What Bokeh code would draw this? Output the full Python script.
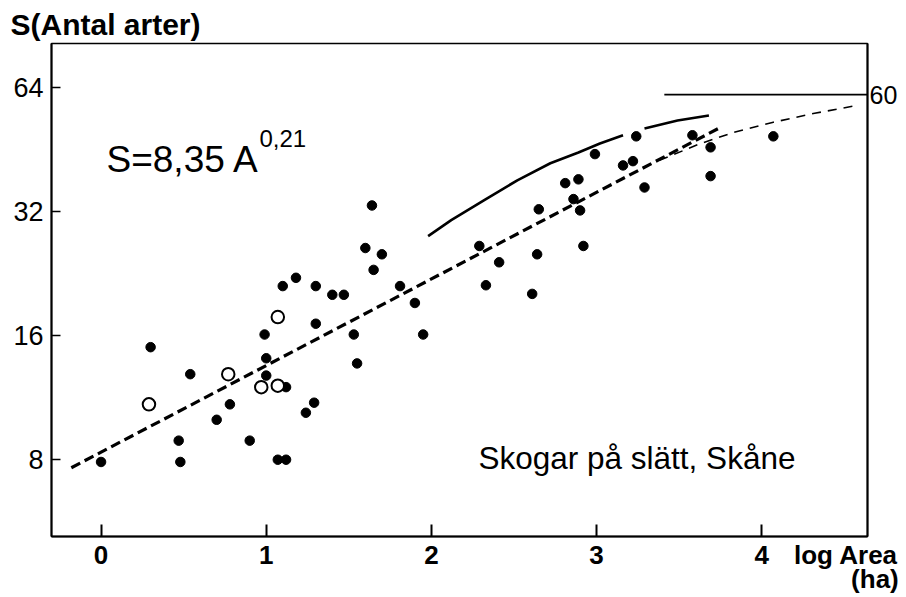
from bokeh.plotting import figure
from bokeh.models import (Range1d, FixedTicker, LogAxis, Label, Title, NumeralTickFormatter)
from bokeh.embed import file_html
from bokeh.resources import INLINE

# ---------------- data ----------------
filled_logA = [0.00, 0.30, 0.54, 0.47, 0.48, 0.70, 0.78, 0.90, 0.99, 1.00, 1.00, 1.12,
               1.07, 1.12, 1.10, 1.18, 1.30, 1.30, 1.24, 1.29, 1.40, 1.47, 1.53, 1.55,
               1.60, 1.64, 1.70, 1.65, 1.81, 1.90, 1.95, 2.29, 2.41, 2.33, 2.61, 2.64,
               2.65, 2.81, 2.89, 2.86, 2.90, 2.92, 2.99, 3.16, 3.22, 3.24, 3.29, 3.58,
               3.69, 3.69, 4.07]
filled_S = [7.9, 15.0, 12.9, 8.9, 7.9, 10.0, 10.9, 8.9, 16.1, 14.1, 12.8, 12.0,
            8.0, 8.0, 21.1, 22.1, 21.1, 17.1, 10.4, 11.0, 20.1, 20.1, 16.1, 13.7,
            26.1, 33.1, 25.2, 23.1, 21.1, 19.2, 16.1, 26.4, 24.1, 21.2, 20.2, 25.2,
            32.4, 37.5, 38.3, 34.3, 32.2, 26.4, 44.1, 41.4, 42.4, 48.7, 36.6, 49.0,
            45.8, 39.0, 48.7]

open_logA = [0.29, 0.77, 0.97, 1.07, 1.07]
open_S = [10.9, 12.9, 12.0, 12.1, 17.75]

# fitted line S = 8,35 A^0,21 (end points)
fit_logA = [-0.18, 3.75]
fit_S = [7.65, 51.2]

# upper solid curve (two pieces, interrupted near a point)
upper1_logA = [1.98, 2.12, 2.32, 2.52, 2.72, 2.89, 3.02, 3.16]
upper1_S = [27.9, 30.5, 34.1, 38.1, 41.9, 44.5, 46.8, 49.0]
upper2_logA = [3.29, 3.49, 3.68]
upper2_S = [50.9, 53.2, 54.7]

# lower thin dashed curve approaching the asymptote
lower_logA = [3.38, 3.63, 3.83, 4.07, 4.32, 4.58]
lower_S = [42.6, 46.8, 49.8, 52.7, 55.4, 57.9]

# asymptote
asym_logA = [3.41, 4.64]
asym_S = 61.5
asym_label = "60"

x_ticks = [0, 1, 2, 3, 4]
y_ticks = [8, 16, 32, 64]
x_title_pos = 4.51
x_title = "log Area\n" + "\u00a0" * 8 + "(ha)"

FONT = "Liberation Sans"

p = figure(width=902, height=597,
           x_range=Range1d(-0.30, 4.64), y_range=Range1d(5.21, 81.8),
           y_axis_type="log", output_backend="svg", toolbar_location=None,
           min_border_left=51, min_border_right=35, min_border_top=43, min_border_bottom=60)
p.grid.visible = False
p.outline_line_color = "black"
p.outline_line_width = 1.5
p.background_fill_color = "white"
p.border_fill_color = "white"

# title at top-left
p.title = Title(text="S(Antal arter)", align="left", offset=-41, standoff=6,
                text_font=FONT, text_font_style="bold", text_font_size="30px",
                text_color="black")

# x axis: inward tick marks drawn as minor ticks, labels (incl. axis title) as major labels
xa = p.xaxis[0]
xa.ticker = FixedTicker(ticks=x_ticks + [x_title_pos], minor_ticks=x_ticks)
xa.major_label_overrides = {x_title_pos: x_title}
xa.major_tick_line_color = None
xa.major_tick_in = 0
xa.major_tick_out = 0
xa.minor_tick_line_color = "black"
xa.minor_tick_in = 12
xa.minor_tick_out = 0
xa.minor_tick_line_width = 2
xa.axis_line_width = 2
xa.major_label_standoff = 3
xa.major_label_text_font = FONT
xa.major_label_text_font_style = "bold"
xa.major_label_text_font_size = "26px"
xa.major_label_text_line_height = 0.83
xa.major_label_text_color = "black"

# y axis
ya = p.yaxis[0]
ya.ticker = FixedTicker(ticks=y_ticks)
ya.formatter = NumeralTickFormatter(format="0")
ya.major_tick_in = 9
ya.major_tick_out = 0
ya.major_tick_line_width = 1.5
ya.minor_tick_line_color = None
ya.axis_line_width = 2
ya.major_label_standoff = 8
ya.major_label_text_font = FONT
ya.major_label_text_font_size = "27px"
ya.major_label_text_color = "black"

# right axis carrying the asymptote label
ra = LogAxis(ticker=FixedTicker(ticks=[asym_S]),
             major_label_overrides={asym_S: asym_label})
ra.major_tick_line_color = None
ra.minor_tick_line_color = None
ra.major_tick_in = 0
ra.major_tick_out = 0
ra.axis_line_width = 2
ra.major_label_standoff = 2
ra.major_label_text_font = FONT
ra.major_label_text_font_size = "25px"
ra.major_label_text_color = "black"
p.add_layout(ra, "right")

# lines
p.line(fit_logA, fit_S, line_width=3.2, line_dash="10 5", line_color="black")
p.multi_line([upper1_logA, upper2_logA], [upper1_S, upper2_S], line_width=2.6, line_color="black")
p.line(lower_logA, lower_S, line_width=1.6, line_dash="9 7", line_color="black")
p.line(asym_logA, [asym_S, asym_S], line_width=1.8, line_color="black")

# points
p.scatter(filled_logA, filled_S, size=9.5, fill_color="black", line_color="black")
p.scatter(open_logA, open_S, size=12.5, fill_color="white", line_color="black", line_width=2)

# texts inside the frame (screen units from the frame's bottom-left)
p.add_layout(Label(x=55, y=377, x_units="screen", y_units="screen", text="S=8,35 A",
                   text_font=FONT, text_font_size="37px",
                   text_baseline="alphabetic", text_color="black"))
p.add_layout(Label(x=208, y=398, x_units="screen", y_units="screen", text="0,21",
                   text_font=FONT, text_font_size="24px",
                   text_baseline="alphabetic", text_color="black"))
p.add_layout(Label(x=427, y=79, x_units="screen", y_units="screen", text="Skogar på  slätt, Skåne",
                   text_font=FONT, text_font_size="31.5px",
                   text_baseline="alphabetic", text_color="black"))

open("out.html", "w").write(file_html(p, INLINE))
